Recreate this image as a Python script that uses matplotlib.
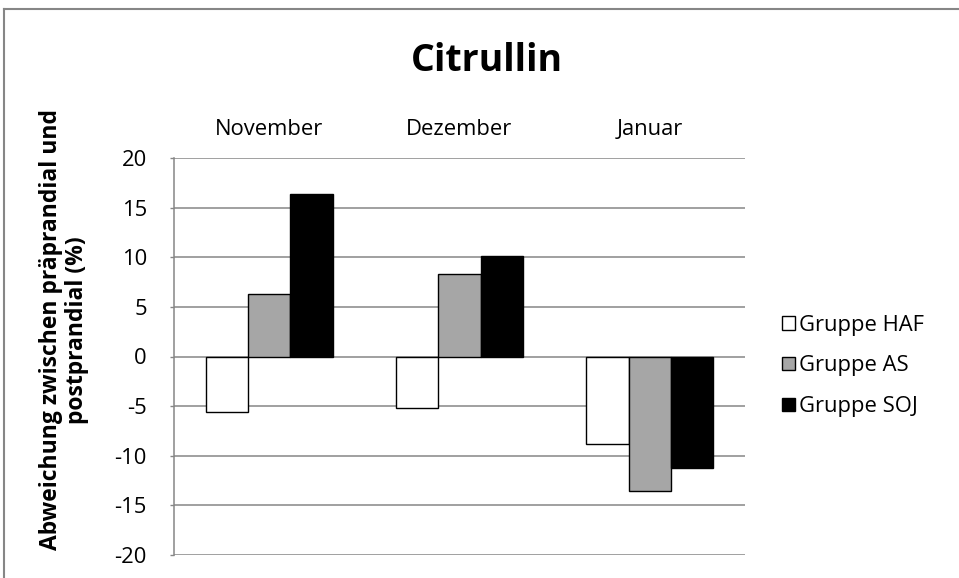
import numpy as np
import matplotlib
matplotlib.use('Agg')
import matplotlib.pyplot as plt
from matplotlib.lines import Line2D

plt.rcParams['font.family'] = ['Open Sans', 'DejaVu Sans']
plt.rcParams['axes.unicode_minus'] = False

months = ['November', 'Dezember', 'Januar']
groups = ['Gruppe HAF', 'Gruppe AS', 'Gruppe SOJ']
haf = [-5.6, -5.2, -8.8]
as_ = [6.25, 8.3, -13.55]
soj = [16.4, 10.1, -11.2]
colors = ['#FFFFFF', '#A6A6A6', '#000000']
yticks = [20, 15, 10, 5, 0, -5, -10, -15, -20]

grid_c = '#868686'

fig = plt.figure(figsize=(9.59, 5.78), dpi=100)
ax = fig.add_axes([174/959, 1-555/578, (745-174)/959, (555-158)/578])

x = np.arange(len(months))
w = 0.223
for i, (vals, name) in enumerate(zip([haf, as_, soj], groups)):
    ax.bar(x + (i-1)*w, vals, w, color=colors[i], edgecolor='#000000',
           linewidth=1.0, label=name, zorder=3)

ax.set_xlim(-0.5, 2.5)
ax.set_ylim(-20, 20)
ax.set_yticks(yticks)
ax.set_yticklabels([str(t) for t in yticks])
ax.yaxis.grid(True, color=grid_c, linewidth=1.1, zorder=0)
ax.set_axisbelow(True)

ax.set_xticks(x)
ax.set_xticklabels(months)
ax.xaxis.set_ticks_position('top')
ax.tick_params(axis='x', length=0, pad=13, labelsize=15.8)
ax.tick_params(axis='y', direction='out', length=3, width=1, color=grid_c,
               pad=16.5, labelsize=15.8)

for s in ['top', 'right', 'bottom']:
    ax.spines[s].set_visible(False)
ax.spines['left'].set_color(grid_c)
ax.spines['left'].set_linewidth(1.1)

fig.text(487/959, 1-61/578, 'Citrullin', ha='center', va='center',
         fontsize=27, fontweight='bold')
fig.text(64/959, 1-330/578, 'Abweichung zwischen präprandial und\npostprandial (%)',
         rotation=90, ha='center', va='center', multialignment='center',
         fontsize=16.5, fontweight='bold', linespacing=1.1)

fig.legend(loc='center left', bbox_to_anchor=(782/959, 1-366/578),
           frameon=False, fontsize=15.8, borderpad=0, borderaxespad=0,
           handlelength=0.58, handleheight=0.55, handletextpad=0.2,
           labelspacing=0.9)

# chart area border
fig.add_artist(Line2D([4/959, 1], [1-9/578, 1-9/578], transform=fig.transFigure,
                      color=grid_c, linewidth=1.5))
fig.add_artist(Line2D([4/959, 4/959], [0, 1-9/578], transform=fig.transFigure,
                      color=grid_c, linewidth=1.5))

fig.savefig('out.png', dpi=100)
